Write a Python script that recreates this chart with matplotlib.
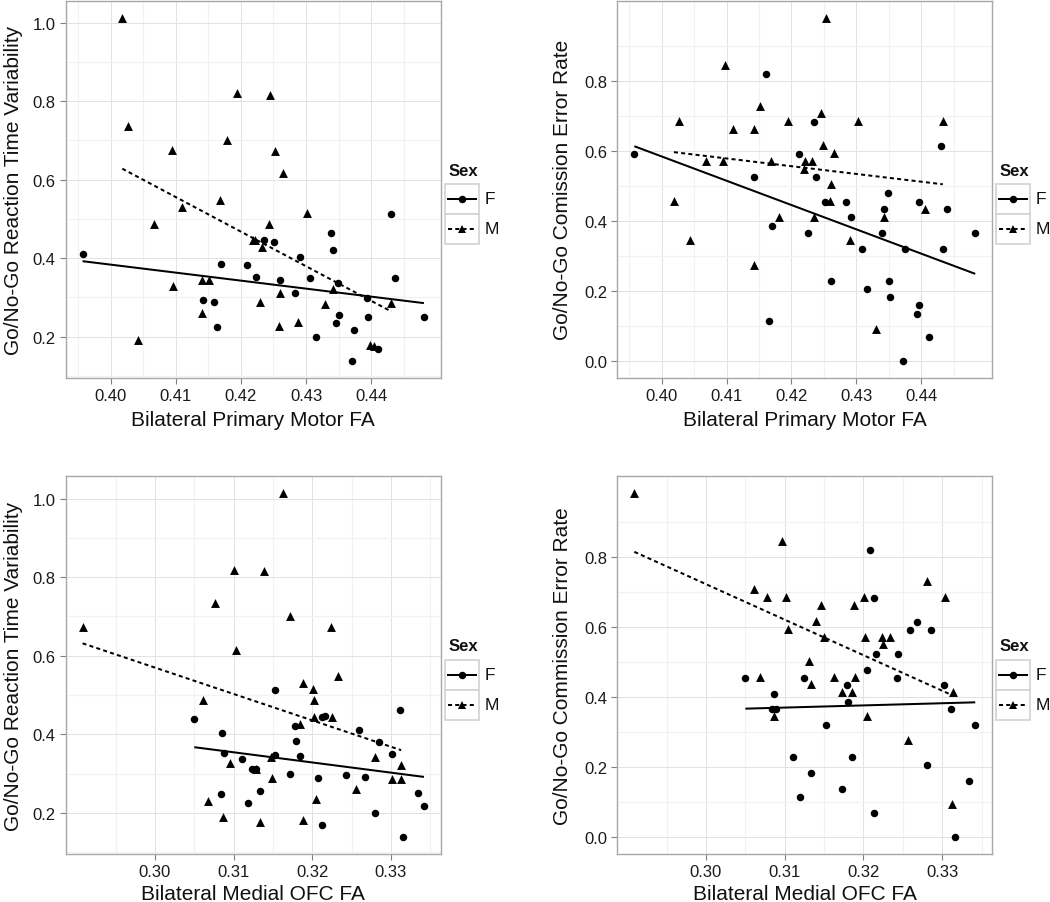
import numpy as np
import matplotlib
matplotlib.use("Agg")
import matplotlib.pyplot as plt
from matplotlib.lines import Line2D
from matplotlib.patches import Rectangle
from matplotlib.ticker import FixedLocator, FormatStrFormatter

plt.rcParams['font.family'] = ['Liberation Sans', 'DejaVu Sans']

# ---------------- data ----------------
# Panel 1: Primary Motor FA vs RT variability
p1_x_F = [0.3957, 0.4169, 0.4210, 0.4223, 0.4236, 0.4251, 0.4260, 0.4290, 0.4306, 0.4283,
          0.4339, 0.4341, 0.4349, 0.4350, 0.4346, 0.4142, 0.4158, 0.4164, 0.4315, 0.4374,
          0.4370, 0.4394, 0.4395, 0.4411, 0.4430, 0.4437, 0.4481]
p1_y_F = [0.411, 0.384, 0.382, 0.353, 0.447, 0.441, 0.345, 0.402, 0.348, 0.311,
          0.463, 0.420, 0.336, 0.255, 0.235, 0.293, 0.289, 0.224, 0.200, 0.217,
          0.138, 0.297, 0.250, 0.169, 0.512, 0.349, 0.250]
p1_x_M = [0.4018, 0.4027, 0.4094, 0.4194, 0.4245, 0.4178, 0.4252, 0.4264, 0.4168, 0.4110,
          0.4067, 0.4302, 0.4243, 0.4218, 0.4222, 0.4233, 0.4096, 0.4141, 0.4151, 0.4141,
          0.4229, 0.4260, 0.4329, 0.4342, 0.4258, 0.4288, 0.4042, 0.4398, 0.4404, 0.4431]
p1_y_M = [1.013, 0.736, 0.675, 0.821, 0.817, 0.702, 0.672, 0.618, 0.548, 0.531,
          0.487, 0.516, 0.488, 0.445, 0.445, 0.428, 0.328, 0.343, 0.343, 0.261,
          0.289, 0.311, 0.283, 0.322, 0.228, 0.237, 0.191, 0.179, 0.176, 0.286]

# Panel 2: Primary Motor FA vs commission error rate
p2_x_F = [0.3958, 0.4160, 0.4234, 0.4211, 0.4143, 0.4237, 0.4431, 0.4348, 0.4251, 0.4284,
          0.4397, 0.4342, 0.4439, 0.4292, 0.4170, 0.4225, 0.4340, 0.4483, 0.4308, 0.4375,
          0.4433, 0.4261, 0.4350, 0.4351, 0.4316, 0.4396, 0.4394, 0.4412, 0.4165, 0.4371]
p2_y_F = [0.591, 0.820, 0.683, 0.591, 0.524, 0.524, 0.613, 0.478, 0.454, 0.454,
          0.455, 0.433, 0.433, 0.410, 0.386, 0.364, 0.364, 0.364, 0.318, 0.318,
          0.318, 0.227, 0.227, 0.182, 0.205, 0.159, 0.135, 0.067, 0.113, 0.000]
p2_x_M = [0.4253, 0.4097, 0.4027, 0.4110, 0.4142, 0.4151, 0.4195, 0.4246, 0.4303, 0.4433,
          0.4248, 0.4265, 0.4221, 0.4231, 0.4169, 0.4068, 0.4094, 0.4219, 0.4261, 0.4019,
          0.4260, 0.4180, 0.4235, 0.4343, 0.4405, 0.4043, 0.4290, 0.4142, 0.4330]
p2_y_M = [0.980, 0.844, 0.685, 0.662, 0.662, 0.729, 0.685, 0.707, 0.685, 0.685,
          0.617, 0.593, 0.571, 0.571, 0.570, 0.571, 0.571, 0.549, 0.505, 0.457,
          0.457, 0.411, 0.411, 0.412, 0.434, 0.344, 0.344, 0.275, 0.092]

# Panel 3: Medial OFC FA vs RT variability
p3_x_F = [0.3153, 0.3311, 0.3050, 0.3212, 0.3216, 0.3178, 0.3259, 0.3085, 0.3179, 0.3285,
          0.3088, 0.3153, 0.3185, 0.3302, 0.3111, 0.3123, 0.3128, 0.3172, 0.3207, 0.3243,
          0.3267, 0.3134, 0.3084, 0.3118, 0.3334, 0.3342, 0.3280, 0.3213, 0.3315]
p3_y_F = [0.513, 0.462, 0.440, 0.444, 0.446, 0.421, 0.411, 0.403, 0.384, 0.381,
          0.352, 0.348, 0.346, 0.349, 0.336, 0.312, 0.312, 0.298, 0.289, 0.296,
          0.291, 0.256, 0.249, 0.225, 0.250, 0.218, 0.200, 0.170, 0.139]
p3_x_M = [0.3163, 0.3101, 0.3139, 0.3076, 0.3172, 0.3224, 0.2908, 0.3103, 0.3233, 0.3188,
          0.3201, 0.3202, 0.3061, 0.3202, 0.3225, 0.3184, 0.3280, 0.3313, 0.3302, 0.3313,
          0.3147, 0.3096, 0.3129, 0.3149, 0.3256, 0.3068, 0.3086, 0.3134, 0.3188, 0.3205]
p3_y_M = [1.014, 0.819, 0.817, 0.735, 0.701, 0.673, 0.672, 0.615, 0.548, 0.530,
          0.515, 0.487, 0.488, 0.443, 0.443, 0.427, 0.343, 0.322, 0.285, 0.285,
          0.343, 0.328, 0.311, 0.288, 0.262, 0.229, 0.190, 0.176, 0.181, 0.236]

# Panel 4: Medial OFC FA vs commission error rate
p4_x_F = [0.3208, 0.3213, 0.3268, 0.3259, 0.3286, 0.3216, 0.3244, 0.3205, 0.3050, 0.3124,
          0.3243, 0.3179, 0.3302, 0.3086, 0.3180, 0.3084, 0.3089, 0.3311, 0.3153, 0.3342,
          0.3111, 0.3185, 0.3134, 0.3281, 0.3334, 0.3173, 0.3119, 0.3213, 0.3316]
p4_y_F = [0.819, 0.683, 0.613, 0.591, 0.591, 0.523, 0.523, 0.477, 0.454, 0.454,
          0.454, 0.432, 0.432, 0.409, 0.386, 0.364, 0.364, 0.364, 0.318, 0.318,
          0.227, 0.227, 0.182, 0.204, 0.159, 0.136, 0.114, 0.068, 0.000]
p4_x_M = [0.2909, 0.3097, 0.3281, 0.3061, 0.3077, 0.3102, 0.3201, 0.3303, 0.3146, 0.3188,
          0.3140, 0.3104, 0.3150, 0.3202, 0.3224, 0.3234, 0.3225, 0.3131, 0.3069, 0.3163,
          0.3189, 0.3134, 0.3173, 0.3185, 0.3314, 0.3087, 0.3205, 0.3257, 0.3313]
p4_y_M = [0.981, 0.845, 0.731, 0.708, 0.685, 0.685, 0.685, 0.685, 0.663, 0.663,
          0.616, 0.594, 0.571, 0.571, 0.571, 0.571, 0.550, 0.503, 0.457, 0.457,
          0.457, 0.435, 0.414, 0.414, 0.414, 0.345, 0.345, 0.276, 0.093]

x_labels = ["Bilateral Primary Motor FA", "Bilateral Primary Motor FA",
            "Bilateral Medial OFC FA", "Bilateral Medial OFC FA"]
y_labels = ["Go/No-Go Reaction Time Variability", "Go/No-Go Comission Error Rate",
            "Go/No-Go Reaction Time Variability", "Go/No-Go Commission Error Rate"]
sex_levels = ["F", "M"]

motor_ticks = [0.40, 0.41, 0.42, 0.43, 0.44]
ofc_ticks = [0.30, 0.31, 0.32, 0.33]
rtv_ticks = [0.2, 0.4, 0.6, 0.8, 1.0]
err_ticks = [0.0, 0.2, 0.4, 0.6, 0.8]

panels = [
    (p1_x_F, p1_y_F, p1_x_M, p1_y_M, motor_ticks, rtv_ticks),
    (p2_x_F, p2_y_F, p2_x_M, p2_y_M, motor_ticks, err_ticks),
    (p3_x_F, p3_y_F, p3_x_M, p3_y_M, ofc_ticks, rtv_ticks),
    (p4_x_F, p4_y_F, p4_x_M, p4_y_M, ofc_ticks, err_ticks),
]

# ---------------- layout ----------------
W, H = 1050, 903
fig = plt.figure(figsize=(W / 100, H / 100), dpi=100)
fig.patch.set_facecolor("white")

# axes boxes in pixels: left, top, right, bottom
boxes = [(65.5, 1.5, 441, 379), (617.3, 1.5, 992.3, 379),
         (65.5, 477, 441, 855), (617.3, 477, 992.3, 855)]
xlabel_base = [426, 426, 900, 900]
ylabel_x = [14, 563, 14, 563]
legend_left = [445, 996, 445, 996]


def fx(px):
    return px / W


def fy(py):
    return 1 - py / H


def minor_between(ticks):
    t = np.asarray(ticks, dtype=float)
    step = t[1] - t[0]
    return np.concatenate([[t[0] - step / 2], t + step / 2])


dash = (0, (2.0, 1.6))
ms_c = 5.4
ms_t = 6.4

for i, (xF, yF, xM, yM, xt, yt) in enumerate(panels):
    l, t, r, b = boxes[i]
    ax = fig.add_axes([fx(l), fy(b), (r - l) / W, (b - t) / H])
    ax.set_axisbelow(True)
    ax.scatter(xF, yF, marker='o', s=ms_c ** 2, color='black', linewidths=0, zorder=3)
    ax.scatter(xM, yM, marker='^', s=ms_t ** 2, color='black', linewidths=0, zorder=3)
    for xs, ys, ls in ((xF, yF, '-'), (xM, yM, dash)):
        xs_a = np.asarray(xs)
        ys_a = np.asarray(ys)
        k, c0 = np.polyfit(xs_a, ys_a, 1)
        xx = np.array([xs_a.min(), xs_a.max()])
        ax.plot(xx, k * xx + c0, color='black', lw=1.45, linestyle=ls, zorder=2,
                solid_capstyle='butt', dash_capstyle='butt')
    ax.margins(x=0.05, y=0.05)
    ax.autoscale_view()
    xl = ax.get_xlim()
    yl = ax.get_ylim()

    ax.xaxis.set_major_locator(FixedLocator(xt))
    ax.xaxis.set_minor_locator(FixedLocator(minor_between(xt)))
    ax.yaxis.set_major_locator(FixedLocator(yt))
    ax.yaxis.set_minor_locator(FixedLocator(minor_between(yt)))
    ax.set_xlim(xl)
    ax.set_ylim(yl)
    ax.xaxis.set_major_formatter(FormatStrFormatter('%.2f'))
    ax.yaxis.set_major_formatter(FormatStrFormatter('%.1f'))
    ax.grid(which='major', color='#E2E2E2', lw=0.7)
    ax.grid(which='minor', color='#F2F2F2', lw=0.9)
    for sp in ax.spines.values():
        sp.set_color('#A8A8A8')
        sp.set_linewidth(1.0)
    ax.tick_params(which='major', length=4.3, width=0.8, color='#7F7F7F',
                   labelsize=12, labelcolor='#1A1A1A', pad=3)
    ax.tick_params(which='minor', length=0)

    ax.set_xlabel(x_labels[i], fontsize=15, color='#111111')
    ax.xaxis.set_label_coords(0.5, -(xlabel_base[i] - b) / (b - t))
    ax.xaxis.label.set_verticalalignment('baseline')
    ax.set_ylabel(y_labels[i], fontsize=15, color='#111111')
    ax.yaxis.set_label_coords((ylabel_x[i] - l) / (r - l), 0.5)
    ax.yaxis.label.set_verticalalignment('center')
    ax.yaxis.label.set_horizontalalignment('center')

    # legend (drawn in figure pixel space)
    L = legend_left[i]
    fig.text(fx(L + 4), fy(t + 170), "Sex", fontsize=12, fontweight='bold',
             ha='left', va='center', color='#111111')
    for j, lev in enumerate(sex_levels):
        top = t + 183.5 + 30 * j
        fig.patches.append(Rectangle((fx(L), fy(top + 30)), 34 / W, 30 / H,
                                     transform=fig.transFigure, facecolor='white',
                                     edgecolor='#D2D2D2', lw=1.2))
        yc = fy(top + 15)
        fig.lines.append(Line2D([fx(L + 3), fx(L + 31)], [yc, yc], transform=fig.transFigure,
                                color='black', lw=1.45,
                                linestyle='-' if j == 0 else dash))
        fig.lines.append(Line2D([fx(L + 17)], [yc], transform=fig.transFigure,
                                marker='o' if j == 0 else '^',
                                markersize=ms_c if j == 0 else ms_t,
                                color='black', markeredgewidth=0, linestyle='none'))
        fig.text(fx(L + 40), yc, lev, fontsize=12.5, ha='left', va='center', color='#111111')

fig.savefig("out.png", dpi=100, facecolor='white')
